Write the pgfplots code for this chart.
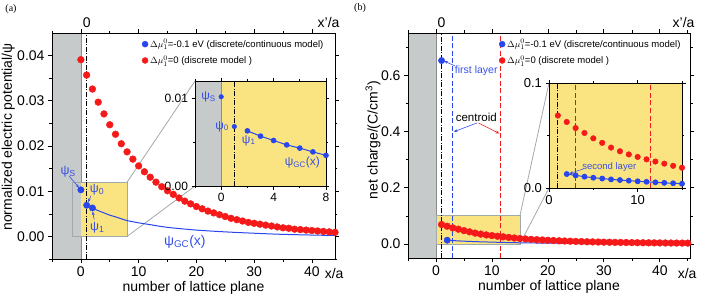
\documentclass[border=0pt]{standalone}
\usepackage{fontspec}
\setmainfont{Liberation Sans}
\newfontfamily\seriffont{Liberation Serif}
\usepackage{pgfplots}
\usepackage{pgfplotstable}
\pgfplotsset{compat=1.18}
\usetikzlibrary{arrows.meta}
\definecolor{myblue}{RGB}{40,70,235}
\definecolor{myred}{RGB}{245,25,25}
\definecolor{myyellow}{RGB}{250,228,130}
\definecolor{mygray}{RGB}{198,202,202}
\definecolor{rectgray}{RGB}{160,170,170}
\definecolor{annblue}{RGB}{55,80,230}

\pgfplotstableread{
x y
0 0.0391
1 0.0357
2 0.0326
3 0.0297
4 0.0271
5 0.0247
6 0.0226
7 0.0205
8 0.0187
9 0.0171
10 0.0156
11 0.0143
12 0.0131
13 0.0120
14 0.0110
15 0.0101
16 0.0093
17 0.0085
18 0.0078
19 0.0072
20 0.0066
21 0.0061
22 0.0056
23 0.0052
24 0.0048
25 0.0044
26 0.0040
27 0.0037
28 0.0034
29 0.0031
30 0.0029
31 0.0027
32 0.0025
33 0.0023
34 0.0021
35 0.0019
36 0.0018
37 0.0016
38 0.0015
39 0.0014
40 0.0013
41 0.0012
42 0.0011
43 0.0010
44 0.0009
}\redA

\pgfplotstableread{
x y
2 0.0063
3 0.0057
4 0.0052
5 0.0047
6 0.00433
7 0.0039
8 0.0035
10 0.0030
12 0.0026
15 0.0020
20 0.0014
25 0.0010
30 0.0007
35 0.00045
40 0.0003
44 0.0002
}\blueA

\pgfplotstableread{
x y
1 0.0690
2 0.0629
3 0.0571
4 0.0524
5 0.0473
6 0.0430
7 0.0385
8 0.0350
9 0.0320
10 0.0296
11 0.0273
12 0.0252
13 0.0232
14 0.0211
15 0.0193
16 0.0177
17 0.0163
18 0.0151
19 0.0140
20 0.0130
21 0.0121
22 0.0112
23 0.0104
24 0.0097
25 0.0090
26 0.0084
27 0.0078
28 0.0073
29 0.0068
30 0.0064
31 0.0060
32 0.0056
33 0.0053
34 0.0050
35 0.0047
36 0.0044
37 0.0042
38 0.0040
39 0.0038
40 0.0036
41 0.0034
42 0.0032
43 0.0031
44 0.0030
45 0.0029
}\redB

\pgfplotstableread{
x y
2 0.0133
3 0.0120
4 0.0108
5 0.0098
6 0.0090
7 0.0082
8 0.0076
9 0.0070
10 0.0064
11 0.0059
12 0.0054
13 0.0049
14 0.0045
15 0.0041
20 0.0028
25 0.0020
30 0.0014
35 0.0010
40 0.0007
45 0.0005
}\blueB

\tikzset{
  dashdot/.style={black, line width=0.9pt, dash pattern=on 5pt off 1.5pt on 1pt off 1.5pt},
  conn/.style={rectgray, line width=0.8pt},
  arr/.style={line width=0.6pt, -{Stealth[length=3.5pt,width=3pt]}},
}
\pgfplotsset{
  common/.style={scale only axis, anchor=south west, axis on top, clip=false,
    tick align=outside, xtick pos=both, ytick pos=both, scaled ticks=false,
    axis line style={line width=0.8pt},
    major tick style={line width=0.7pt, black},
    minor tick style={line width=0.6pt, black},
    xticklabel style={/pgf/number format/assume math mode=true},
    yticklabel style={/pgf/number format/.cd, assume math mode=true, fixed, fixed zerofill}},
  leg/.style={legend style={draw=none, fill=none, anchor=north west,
    font=\fontsize{9.5}{11}\selectfont, row sep=2.5pt}, legend cell align=left},
}

\begin{document}
\begin{tikzpicture}
\path[use as bounding box] (0,0) rectangle (702pt,298pt);

\node[font=\seriffont\fontsize{10}{12}\selectfont] at (11pt,289pt) {(a)};
\node[font=\seriffont\fontsize{10}{12}\selectfont] at (360pt,290pt) {(b)};

% ---------------- main (a)
\begin{axis}[common, leg, at={(52pt,39pt)}, width=283pt, height=226pt,
  xmin=-5, xmax=44, ymin=-0.005, ymax=0.045,
  major tick length=4pt, minor tick length=2.5pt,
  xtick={0,10,20,30,40}, minor xtick={-5,5,15,25,35},
  ytick={0,0.01,0.02,0.03,0.04}, minor ytick={-0.005,0.005,0.015,0.025,0.035},
  yticklabel style={/pgf/number format/precision=2},
  tick label style={font=\fontsize{14}{16}\selectfont},
  xlabel={number of lattice plane}, ylabel={normalized electric potential/ψ},
  label style={font=\fontsize{14}{16}\selectfont},
  xlabel style={at={(rel axis cs:0.5,0)}, anchor=center, yshift=-29pt},
  ylabel style={at={(rel axis cs:-0.155,0.54)}, anchor=center},
  legend style={at={(rel axis cs:0.307,0.991)}}]
\addlegendimage{only marks, mark=*, mark size=3pt, myblue}
\addlegendentry{$\Delta\mu^{0}_{1}$=-0.1 eV (discrete/continuous model)}
\addlegendimage{only marks, mark=*, mark size=3pt, myred}
\addlegendentry{$\Delta\mu^{0}_{1}$=0 (discrete model )}
\fill[mygray, draw=black!45, line width=0.6pt] (axis cs:-5,-0.005) rectangle (axis cs:0,0.045);
\fill[myyellow] (axis cs:0,0) rectangle (axis cs:8,0.012);
\draw[conn] (axis cs:-1.5,0) rectangle (axis cs:8,0.012);
\draw[conn] (axis cs:8,0.012) -- (axis cs:19.76,0.03438);
\draw[conn] (axis cs:8,0) -- (axis cs:19.76,0.01115);
\draw[dashdot] (axis cs:1,-0.005) -- (axis cs:1,0.045);
\addplot[forget plot, only marks, mark=*, mark size=3.4pt, myred] table {\redA};
\addplot[forget plot, myblue, line width=1pt, smooth, no marks] table {\blueA};
\addplot[forget plot, only marks, mark=*, mark size=3.2pt, myblue] coordinates {(0,0.0103) (1,0.0069) (2,0.0063)};
\node[annblue, font=\fontsize{12.5}{14}\selectfont] at (axis cs:-2.2,0.0144) {ψ\textsubscript{S}};
\draw[annblue, arr] (axis cs:-2.0,0.0133) -- (axis cs:-0.35,0.0108);
\node[annblue, font=\fontsize{12.5}{14}\selectfont] at (axis cs:2.8,0.0103) {ψ\textsubscript{0}};
\draw[annblue, arr] (axis cs:1.75,0.0090) -- (axis cs:1.25,0.0076);
\node[annblue, font=\fontsize{12.5}{14}\selectfont] at (axis cs:2.85,0.0019) {ψ\textsubscript{1}};
\draw[annblue, arr] (axis cs:2.3,0.0037) -- (axis cs:2.05,0.0055);
\node[annblue, font=\fontsize{14}{16}\selectfont] at (axis cs:18,-0.0012) {ψ\textsubscript{GC}(x)};
\node[font=\fontsize{14}{16}\selectfont, anchor=south] at (axis cs:1,0.045) [yshift=2pt] {0};
\node[font=\fontsize{14}{16}\selectfont, anchor=south east] at (rel axis cs:1,1) [xshift=8pt, yshift=2pt] {x'/a};
\node[font=\fontsize{14}{16}\selectfont, anchor=east] at (rel axis cs:1,0) [xshift=12pt, yshift=-14pt] {x/a};
\end{axis}

% ---------------- inset (a)
\begin{axis}[common, at={(195pt,112pt)}, width=131pt, height=105pt,
  xmin=-2, xmax=8, ymin=0, ymax=0.012,
  major tick length=3.5pt, minor tick length=2pt,
  xtick={0,4,8}, minor xtick={-2,2,6},
  ytick={0,0.01}, minor ytick={0.005},
  yticklabel style={/pgf/number format/precision=2},
  tick label style={font=\fontsize{12}{14}\selectfont}]
\fill[mygray] (axis cs:-2,0) rectangle (axis cs:0,0.012);
\fill[myyellow] (axis cs:0,0) rectangle (axis cs:8,0.012);
\draw[black!45, line width=0.6pt] (axis cs:0,0) -- (axis cs:0,0.012);
\draw[dashdot] (axis cs:1,0) -- (axis cs:1,0.012);
\addplot[only marks, mark=*, mark size=2.3pt, myblue] coordinates {(0,0.0102) (1,0.0068)};
\addplot[myblue, line width=1pt, mark=*, mark size=2.3pt] coordinates {(2,0.0063) (3,0.0057) (4,0.0052) (5,0.0047) (6,0.00433) (7,0.0039) (8,0.0035)};
\node[annblue, font=\fontsize{12}{14}\selectfont, anchor=east] at (axis cs:-0.15,0.0102) {ψ\textsubscript{S}};
\node[annblue, font=\fontsize{12}{14}\selectfont, anchor=east] at (axis cs:0.85,0.0068) {ψ\textsubscript{0}};
\node[annblue, font=\fontsize{12}{14}\selectfont] at (axis cs:2.1,0.0052) {ψ\textsubscript{1}};
\node[annblue, font=\fontsize{12}{14}\selectfont] at (axis cs:6.2,0.0027) {ψ\textsubscript{GC}(x)};
\end{axis}

% ---------------- main (b)
\begin{axis}[common, leg, at={(408pt,40pt)}, width=282pt, height=225pt,
  xmin=-5, xmax=45.4, ymin=-0.05, ymax=0.75,
  major tick length=4pt, minor tick length=2.5pt,
  xtick={0,10,20,30,40}, minor xtick={-5,5,15,25,35,45},
  ytick={0,0.2,0.4,0.6}, minor ytick={0.1,0.3,0.5,0.7},
  yticklabel style={/pgf/number format/precision=1},
  tick label style={font=\fontsize{14}{16}\selectfont},
  xlabel={number of lattice plane}, ylabel={net charge/(C/cm\textsuperscript{3})},
  label style={font=\fontsize{14}{16}\selectfont},
  xlabel style={at={(rel axis cs:0.5,0)}, anchor=center, yshift=-29pt},
  ylabel style={at={(rel axis cs:-0.124,0.524)}, anchor=center},
  legend style={at={(rel axis cs:0.312,0.991)}}]
\addlegendimage{only marks, mark=*, mark size=3pt, myblue}
\addlegendentry{$\Delta\mu^{0}_{1}$=-0.1 eV (discrete/continuous model)}
\addlegendimage{only marks, mark=*, mark size=3pt, myred}
\addlegendentry{$\Delta\mu^{0}_{1}$=0 (discrete model )}
\fill[mygray, draw=black!45, line width=0.6pt] (axis cs:-5,-0.05) rectangle (axis cs:0,0.75);
\fill[myyellow] (axis cs:0,0) rectangle (axis cs:15,0.1);
\draw[conn] (axis cs:0,0) rectangle (axis cs:15,0.1);
\draw[conn] (axis cs:15,0.1) -- (axis cs:20.2,0.5722);
\draw[conn] (axis cs:15,0) -- (axis cs:20.2,0.1989);
\draw[dashdot] (axis cs:1,-0.05) -- (axis cs:1,0.75);
\draw[myblue, line width=1pt, dash pattern=on 5pt off 2.5pt] (axis cs:3,-0.05) -- (axis cs:3,0.75);
\draw[myred, line width=1pt, dash pattern=on 5pt off 2.5pt] (axis cs:11.5,-0.05) -- (axis cs:11.5,0.75);
\addplot[forget plot, myblue, line width=1pt, smooth, no marks] table {\blueB};
\addplot[forget plot, only marks, mark=*, mark size=3.4pt, myred] table {\redB};
\addplot[forget plot, only marks, mark=*, mark size=3.2pt, myblue] coordinates {(1,0.652) (2,0.0133)};
\node[annblue, font=\fontsize{10.5}{12}\selectfont] at (axis cs:7.2,0.616) {first layer};
\draw[annblue, arr] (axis cs:3.4,0.633) -- (axis cs:1.5,0.650);
\node[font=\fontsize{11.5}{13}\selectfont] at (axis cs:7.2,0.45) {centroid};
\draw[annblue, arr] (axis cs:7.3,0.43) -- (axis cs:3.2,0.399);
\draw[myred, arr] (axis cs:7.6,0.43) -- (axis cs:11.3,0.393);
\node[font=\fontsize{14}{16}\selectfont, anchor=south] at (axis cs:1,0.75) [yshift=2pt] {0};
\node[font=\fontsize{14}{16}\selectfont, anchor=south east] at (rel axis cs:1,1) [xshift=8pt, yshift=2pt] {x'/a};
\node[font=\fontsize{14}{16}\selectfont, anchor=east] at (rel axis cs:1,0) [xshift=10pt, yshift=-15pt] {x/a};
\end{axis}

% ---------------- inset (b)
\begin{axis}[common, at={(549pt,110pt)}, width=133pt, height=105pt,
  xmin=0, xmax=15, ymin=0, ymax=0.1,
  major tick length=3.5pt, minor tick length=2pt,
  xtick={0,10}, minor xtick={5,15},
  ytick={0,0.1}, minor ytick={0.05},
  yticklabel style={/pgf/number format/precision=1},
  tick label style={font=\fontsize{13}{15}\selectfont}]
\fill[myyellow] (axis cs:0,0) rectangle (axis cs:15,0.1);
\draw[dashdot] (axis cs:1,0) -- (axis cs:1,0.1);
\draw[myblue, line width=1pt, dash pattern=on 5pt off 2.5pt] (axis cs:3,0) -- (axis cs:3,0.1);
\draw[myred, line width=1pt, dash pattern=on 5pt off 2.5pt] (axis cs:11.5,0) -- (axis cs:11.5,0.1);
\addplot[only marks, mark=*, mark size=2.8pt, myred, restrict x to domain=0:15] table {\redB};
\addplot[myblue, line width=1pt, mark=*, mark size=2.4pt, restrict x to domain=0:15] table {\blueB};
\node[annblue, font=\fontsize{9.5}{11}\selectfont] at (axis cs:6.8,0.0196) {second layer};
\draw[annblue, arr] (axis cs:3.86,0.0181) -- (axis cs:2.3,0.0137);
\end{axis}
\end{tikzpicture}
\end{document}
